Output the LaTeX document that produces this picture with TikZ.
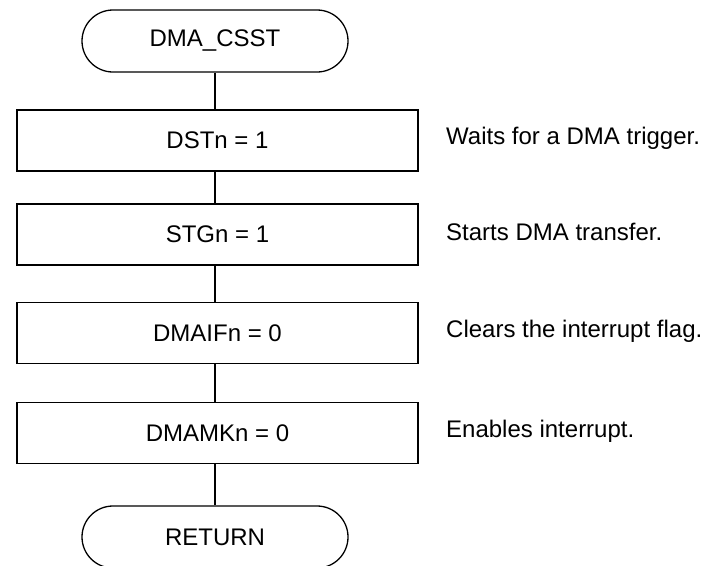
\documentclass[tikz,border=0pt]{standalone}
\usepackage{fontspec}
\setmainfont{Liberation Sans}
\begin{document}
\begin{tikzpicture}[x=1pt,y=-1pt,
  every node/.style={font=\fontsize{24}{28}\selectfont},
  term/.style={draw,line width=1.3pt,rounded corners=31pt,minimum width=266pt,minimum height=62pt,inner sep=0pt},
  proc/.style={draw,line width=1.3pt,minimum width=401pt,minimum height=61pt,inner sep=0pt},
  note/.style={anchor=west,inner sep=0pt},
  conn/.style={line width=1.3pt}]
\useasboundingbox (0,0) rectangle (704,565);
\node[term] (start) at (215,41) {DMA\_CSST};
\node[proc] (b1) at (217.5,140.5) {DSTn = 1};
\node[proc] (b2) at (217.5,234.5) {STGn = 1};
\node[proc] (b3) at (217.5,333) {DMAIFn = 0};
\node[proc] (b4) at (217.5,433) {DMAMKn = 0};
\node[term] (ret) at (215,537) {RETURN};
\node[note] (n1) at (446,138) {Waits for a DMA trigger.};
\node[note] (n2) at (446,232) {Starts DMA transfer.};
\node[note] (n3) at (446,331) {Clears the interrupt flag.};
\node[note] (n4) at (446,431) {Enables interrupt.};
\draw[conn] (start.south) -- (start.south |- b1.north);
\draw[conn] (start.south |- b1.south) -- (start.south |- b2.north);
\draw[conn] (start.south |- b2.south) -- (start.south |- b3.north);
\draw[conn] (start.south |- b3.south) -- (start.south |- b4.north);
\draw[conn] (start.south |- b4.south) -- (ret.north);
\end{tikzpicture}
\end{document}
